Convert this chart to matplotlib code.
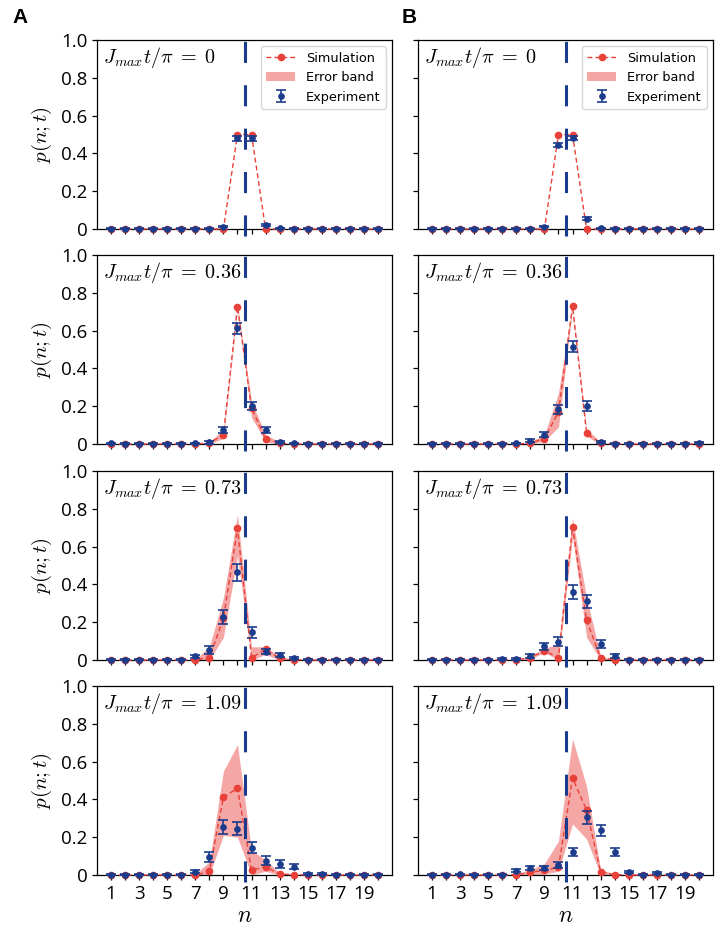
import matplotlib
matplotlib.use('Agg')
import matplotlib.pyplot as plt

plt.rcParams['mathtext.fontset'] = 'cm'
plt.rcParams['font.family'] = ['DejaVu Sans']

# ---------------- data ----------------
n = list(range(1, 21))
x_tick_labels = ['1', '', '3', '', '5', '', '7', '', '9', '', '11', '', '13', '', '15', '', '17', '', '19', '']
y_ticks = [0, 0.2, 0.4, 0.6, 0.8, 1.0]
y_tick_labels = ['0', '0.2', '0.4', '0.6', '0.8', '1.0']
time_labels = ['0', '0.36', '0.73', '1.09']
x_split = 10.5

# Column A
sim_A0 = [0, 0, 0, 0, 0, 0, 0, 0, 0, 0.50, 0.50, 0, 0, 0, 0, 0, 0, 0, 0, 0]
lo_A0 = [0, 0, 0, 0, 0, 0, 0, 0, 0, 0.50, 0.50, 0, 0, 0, 0, 0, 0, 0, 0, 0]
hi_A0 = [0, 0, 0, 0, 0, 0, 0, 0, 0, 0.50, 0.50, 0, 0, 0, 0, 0, 0, 0, 0, 0]
exp_A0 = [0.002, 0.002, 0.002, 0.002, 0.002, 0.002, 0.002, 0.002, 0.012, 0.480, 0.480, 0.022, 0.003, 0.002, 0.002, 0.002, 0.002, 0.002, 0.002, 0.002]
err_A0 = [0.002, 0.002, 0.002, 0.002, 0.002, 0.002, 0.002, 0.002, 0.004, 0.013, 0.013, 0.006, 0.002, 0.002, 0.002, 0.002, 0.002, 0.002, 0.002, 0.002]

sim_A1 = [0, 0, 0, 0, 0, 0, 0, 0.005, 0.05, 0.727, 0.19, 0.028, 0.005, 0, 0, 0, 0, 0, 0, 0]
lo_A1 = [0, 0, 0, 0, 0, 0, 0, 0.0, 0.03, 0.71, 0.14, 0.012, 0.0, 0, 0, 0, 0, 0, 0, 0]
hi_A1 = [0, 0, 0, 0, 0, 0, 0, 0.012, 0.075, 0.74, 0.225, 0.05, 0.01, 0, 0, 0, 0, 0, 0, 0]
exp_A1 = [0.004, 0.002, 0.002, 0.002, 0.002, 0.002, 0.004, 0.008, 0.074, 0.612, 0.20, 0.074, 0.012, 0.003, 0.002, 0.002, 0.002, 0.002, 0.002, 0.002]
err_A1 = [0.003, 0.002, 0.002, 0.002, 0.002, 0.002, 0.003, 0.006, 0.018, 0.028, 0.022, 0.016, 0.006, 0.002, 0.002, 0.002, 0.002, 0.002, 0.002, 0.002]

sim_A2 = [0, 0, 0, 0, 0, 0, 0.002, 0.012, 0.22, 0.697, 0.012, 0.056, 0.01, 0.002, 0, 0, 0, 0, 0, 0]
lo_A2 = [0, 0, 0, 0, 0, 0, 0.0, 0.0, 0.12, 0.55, 0.0, 0.03, 0.0, 0.0, 0, 0, 0, 0, 0, 0]
hi_A2 = [0, 0, 0, 0, 0, 0, 0.005, 0.07, 0.33, 0.77, 0.07, 0.07, 0.02, 0.004, 0, 0, 0, 0, 0, 0]
exp_A2 = [0.002, 0.002, 0.002, 0.002, 0.002, 0.002, 0.021, 0.053, 0.229, 0.464, 0.146, 0.044, 0.026, 0.012, 0.002, 0.002, 0.002, 0.002, 0.002, 0.002]
err_A2 = [0.002, 0.002, 0.002, 0.002, 0.002, 0.002, 0.008, 0.02, 0.037, 0.044, 0.031, 0.012, 0.01, 0.006, 0.002, 0.002, 0.002, 0.002, 0.002, 0.002]

sim_A3 = [0, 0, 0, 0, 0, 0, 0, 0.019, 0.412, 0.459, 0.026, 0.042, 0.005, 0.002, 0, 0, 0, 0, 0, 0]
lo_A3 = [0, 0, 0, 0, 0, 0, 0, 0.0, 0.21, 0.20, 0.0, 0.02, 0.0, 0.0, 0, 0, 0, 0, 0, 0]
hi_A3 = [0, 0, 0, 0, 0, 0, 0.005, 0.07, 0.55, 0.69, 0.13, 0.08, 0.012, 0.004, 0, 0, 0, 0, 0, 0]
exp_A3 = [0.002, 0.002, 0.002, 0.002, 0.002, 0.002, 0.016, 0.094, 0.255, 0.246, 0.145, 0.075, 0.059, 0.044, 0.004, 0.004, 0.002, 0.002, 0.002, 0.002]
err_A3 = [0.002, 0.002, 0.002, 0.002, 0.002, 0.002, 0.008, 0.026, 0.036, 0.036, 0.03, 0.024, 0.02, 0.013, 0.004, 0.004, 0.002, 0.002, 0.002, 0.002]

# Column B
sim_B0 = [0, 0, 0, 0, 0, 0, 0, 0, 0, 0.50, 0.50, 0, 0, 0, 0, 0, 0, 0, 0, 0]
lo_B0 = [0, 0, 0, 0, 0, 0, 0, 0, 0, 0.50, 0.50, 0, 0, 0, 0, 0, 0, 0, 0, 0]
hi_B0 = [0, 0, 0, 0, 0, 0, 0, 0, 0, 0.50, 0.50, 0, 0, 0, 0, 0, 0, 0, 0, 0]
exp_B0 = [0.002, 0.002, 0.002, 0.002, 0.002, 0.002, 0.002, 0.002, 0.012, 0.445, 0.482, 0.055, 0.003, 0.002, 0.002, 0.002, 0.002, 0.002, 0.002, 0.002]
err_B0 = [0.002, 0.002, 0.002, 0.002, 0.002, 0.002, 0.002, 0.002, 0.004, 0.010, 0.010, 0.006, 0.002, 0.002, 0.002, 0.002, 0.002, 0.002, 0.002, 0.002]

sim_B1 = [0, 0, 0, 0, 0, 0, 0, 0.005, 0.028, 0.17, 0.73, 0.056, 0.005, 0, 0, 0, 0, 0, 0, 0]
lo_B1 = [0, 0, 0, 0, 0, 0, 0, 0.0, 0.015, 0.09, 0.72, 0.04, 0.0, 0, 0, 0, 0, 0, 0, 0]
hi_B1 = [0, 0, 0, 0, 0, 0, 0, 0.012, 0.05, 0.27, 0.74, 0.08, 0.01, 0, 0, 0, 0, 0, 0, 0]
exp_B1 = [0.002, 0.002, 0.002, 0.002, 0.002, 0.002, 0.003, 0.017, 0.05, 0.183, 0.515, 0.20, 0.01, 0.002, 0.002, 0.002, 0.002, 0.002, 0.002, 0.007]
err_B1 = [0.002, 0.002, 0.002, 0.002, 0.002, 0.002, 0.002, 0.008, 0.015, 0.024, 0.03, 0.026, 0.006, 0.002, 0.002, 0.002, 0.002, 0.002, 0.002, 0.004]

sim_B2 = [0, 0, 0, 0, 0, 0, 0.002, 0.012, 0.05, 0.012, 0.705, 0.21, 0.012, 0.002, 0, 0, 0, 0, 0, 0]
lo_B2 = [0, 0, 0, 0, 0, 0, 0.0, 0.005, 0.04, 0.0, 0.65, 0.12, 0.0, 0.0, 0, 0, 0, 0, 0, 0]
hi_B2 = [0, 0, 0, 0, 0, 0, 0.004, 0.02, 0.065, 0.08, 0.75, 0.33, 0.02, 0.004, 0, 0, 0, 0, 0, 0]
exp_B2 = [0.002, 0.002, 0.002, 0.002, 0.002, 0.005, 0.005, 0.023, 0.072, 0.097, 0.36, 0.31, 0.085, 0.023, 0.002, 0.002, 0.002, 0.002, 0.002, 0.002]
err_B2 = [0.002, 0.002, 0.002, 0.002, 0.002, 0.003, 0.003, 0.01, 0.02, 0.025, 0.037, 0.035, 0.02, 0.01, 0.002, 0.002, 0.002, 0.002, 0.002, 0.002]

sim_B3 = [0, 0, 0, 0, 0, 0, 0.002, 0.014, 0.025, 0.04, 0.513, 0.344, 0.017, 0.002, 0, 0, 0, 0, 0, 0]
lo_B3 = [0, 0, 0, 0, 0, 0, 0.0, 0.0, 0.005, 0.02, 0.27, 0.19, 0.0, 0.0, 0, 0, 0, 0, 0, 0]
hi_B3 = [0, 0, 0, 0, 0, 0, 0.005, 0.03, 0.06, 0.18, 0.72, 0.47, 0.03, 0.005, 0, 0, 0, 0, 0, 0]
exp_B3 = [0.002, 0.002, 0.004, 0.002, 0.002, 0.002, 0.023, 0.035, 0.035, 0.054, 0.122, 0.306, 0.237, 0.122, 0.014, 0.002, 0.009, 0.002, 0.002, 0.002]
err_B3 = [0.002, 0.002, 0.003, 0.002, 0.002, 0.002, 0.008, 0.01, 0.01, 0.015, 0.023, 0.035, 0.03, 0.023, 0.006, 0.002, 0.005, 0.002, 0.002, 0.002]

col_A = [(sim_A0, lo_A0, hi_A0, exp_A0, err_A0),
         (sim_A1, lo_A1, hi_A1, exp_A1, err_A1),
         (sim_A2, lo_A2, hi_A2, exp_A2, err_A2),
         (sim_A3, lo_A3, hi_A3, exp_A3, err_A3)]
col_B = [(sim_B0, lo_B0, hi_B0, exp_B0, err_B0),
         (sim_B1, lo_B1, hi_B1, exp_B1, err_B1),
         (sim_B2, lo_B2, hi_B2, exp_B2, err_B2),
         (sim_B3, lo_B3, hi_B3, exp_B3, err_B3)]
columns = [col_A, col_B]

# ---------------- style ----------------
RED = '#e8413a'
PINK = '#f4a7a5'
NAVY = '#1b3c8c'
TICK_FONT = 'Open Sans'

W, H = 726, 935
fig = plt.figure(figsize=(W / 100, H / 100), dpi=100)

col_left_px = [97, 418]
row_top_px = [40, 255, 471, 686]
ax_w_px = 295
ax_h_px = 189

for c, col in enumerate(columns):
    for r, (sim, lo, hi, ex, er) in enumerate(col):
        left = col_left_px[c] / W
        bottom = 1 - (row_top_px[r] + ax_h_px) / H
        ax = fig.add_axes([left, bottom, ax_w_px / W, ax_h_px / H])

        band = ax.fill_between(n, lo, hi, color=PINK, lw=0, zorder=1)
        sim_line, = ax.plot(n, sim, linestyle='--', marker='o', color=RED,
                            ms=4.5, lw=1.0, dashes=(3.5, 2.2), zorder=3, clip_on=False)
        eb = ax.errorbar(n, ex, yerr=er, fmt='o', color=NAVY, ms=3.8,
                         capsize=3.5, elinewidth=1.2, capthick=1.2, zorder=4, clip_on=False)
        for art in eb.lines[1] + eb.lines[2]:
            art.set_clip_on(False)
        ax.axvline(x_split, ymin=-0.037, ymax=1.01, color=NAVY, lw=2.2,
                   dashes=(6.9, 7.3), clip_on=False, zorder=5)

        ax.set_xlim(0, 21)
        ax.set_ylim(0, 1.0)
        ax.set_xticks(n)
        ax.set_yticks(y_ticks)
        ax.tick_params(direction='out', length=3.5, width=0.9, color='black')
        for sp in ax.spines.values():
            sp.set_linewidth(0.9)

        if r == 3:
            ax.set_xticklabels(x_tick_labels, fontsize=13.5, family=TICK_FONT)
            ax.set_xlabel('$n$', fontsize=17, labelpad=0)
        else:
            ax.set_xticklabels([])
        if c == 0:
            ax.set_yticklabels(y_tick_labels, fontsize=13.5, family=TICK_FONT)
            ax.text(-0.185, 0.5, '$p(n;t)$', rotation=90, ha='center', va='center',
                    fontsize=15, transform=ax.transAxes)
        else:
            ax.set_yticklabels([])

        ax.text(0.02, 0.975, r'$J_{max}t/\pi\;=\;' + time_labels[r] + '$',
                transform=ax.transAxes, ha='left', va='top', fontsize=14.5)

        if r == 0:
            ax.legend([sim_line, band, eb], ['Simulation', 'Error band', 'Experiment'],
                      loc='upper right', fontsize=9.3, handlelength=2.3,
                      borderaxespad=0.5, framealpha=0.8)

fig.text(12 / W, 1 - 8 / H, 'A', fontsize=15, fontweight='bold', va='top', ha='left',
         family='Liberation Sans')
fig.text(402 / W, 1 - 8 / H, 'B', fontsize=15, fontweight='bold', va='top', ha='left',
         family='Liberation Sans')

fig.savefig('out.png', dpi=100)
